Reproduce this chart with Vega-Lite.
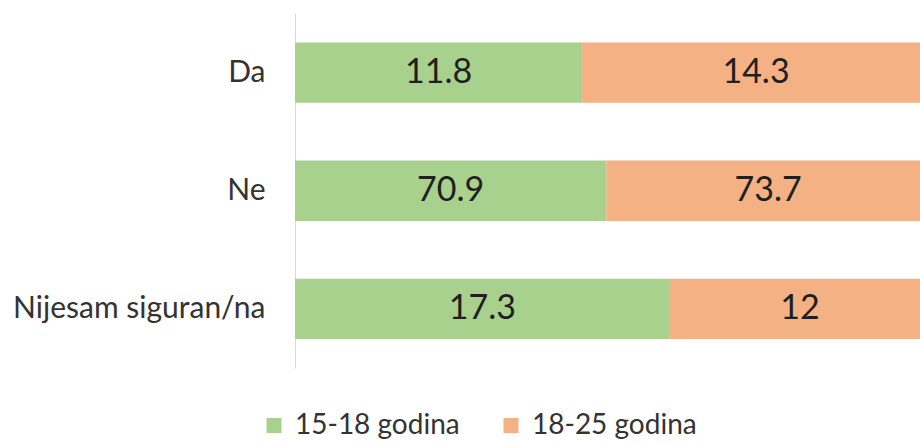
{
  "$schema": "https://vega.github.io/schema/vega-lite/v6.json",
  "width": 625,
  "height": 354.5,
  "autosize": {"type": "none"},
  "padding": {"left": 295, "top": 13.5, "right": 0, "bottom": 74},
  "background": "white",
  "config": {"view": {"stroke": null}, "font": "Lato"},
  "data": {
    "values": [
      {"cat": "Da", "group": "15-18 godina", "value": 11.8},
      {"cat": "Da", "group": "18-25 godina", "value": 14.3},
      {"cat": "Ne", "group": "15-18 godina", "value": 70.9},
      {"cat": "Ne", "group": "18-25 godina", "value": 73.7},
      {"cat": "Nijesam siguran/na", "group": "15-18 godina", "value": 17.3},
      {"cat": "Nijesam siguran/na", "group": "18-25 godina", "value": 12}
    ]
  },
  "encoding": {
    "y": {
      "field": "cat",
      "type": "nominal",
      "sort": ["Da", "Ne", "Nijesam siguran/na"],
      "scale": {"paddingInner": 0.49, "paddingOuter": 0.245},
      "axis": {
        "title": null,
        "domain": true,
        "domainColor": "#d9d9d9",
        "domainWidth": 1,
        "ticks": false,
        "labelFont": "Lato",
        "labelFontSize": 30,
        "labelColor": "#333333",
        "labelPadding": 30,
        "labelLimit": 400
      }
    },
    "order": {"field": "group", "type": "nominal"}
  },
  "layer": [
    {
      "mark": {"type": "bar", "clip": true},
      "encoding": {
        "x": {
          "field": "value",
          "type": "quantitative",
          "stack": "normalize",
          "scale": {"domain": [0, 0.9843], "nice": false},
          "axis": null
        },
        "color": {
          "field": "group",
          "type": "nominal",
          "scale": {"domain": ["15-18 godina", "18-25 godina"], "range": ["#a9d18e", "#f4b183"]},
          "legend": {
            "title": null,
            "orient": "none",
            "direction": "horizontal",
            "legendX": -35,
            "legendY": 398,
            "padding": 0,
            "symbolType": "square",
            "symbolSize": 225,
            "symbolStrokeWidth": 0,
            "labelFont": "Lato",
            "labelFontSize": 28,
            "labelColor": "#333333",
            "labelOffset": 7,
            "labelLimit": 400,
            "columnPadding": 37
          }
        }
      }
    },
    {
      "mark": {"type": "text", "font": "Lato", "fontSize": 34, "color": "#1f1f1f", "baseline": "middle", "align": "center"},
      "encoding": {
        "x": {
          "field": "value",
          "type": "quantitative",
          "stack": "normalize",
          "bandPosition": 0.5
        },
        "detail": {"field": "group", "type": "nominal"},
        "text": {"field": "value", "type": "quantitative"}
      }
    }
  ]
}
